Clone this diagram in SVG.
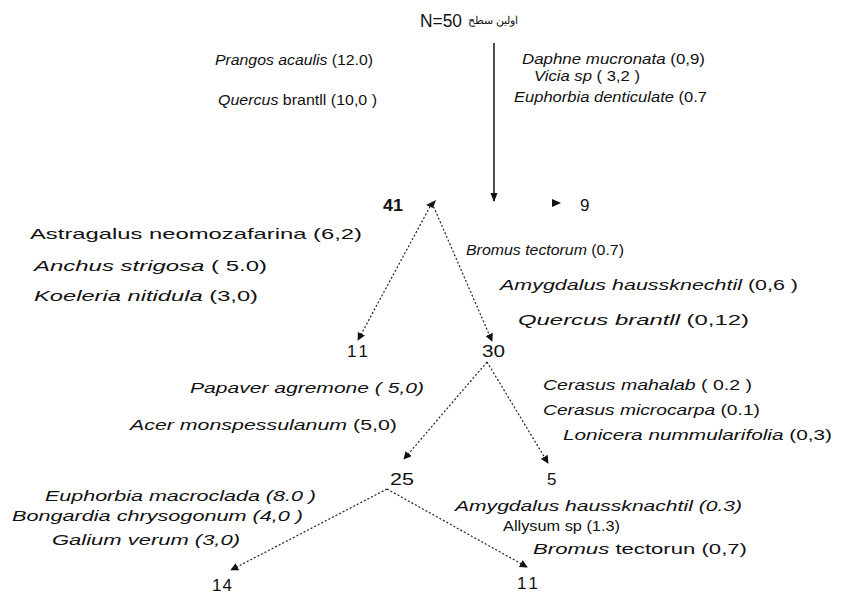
<svg xmlns="http://www.w3.org/2000/svg" width="849" height="597" viewBox="0 0 849 597">
<style>
text{font-family:"Liberation Sans",Arial,sans-serif;fill:#111;}
.sp{font-size:15px;}
.it{font-style:italic;}
.num{font-size:17px;}
.dot{fill:none;stroke:#222;stroke-width:1.2;stroke-dasharray:2,2;}
.sol{fill:none;stroke:#111;stroke-width:1.5;}
</style>
<defs>
<marker id="ah" viewBox="0 0 10 10" refX="9" refY="5" markerWidth="8" markerHeight="8" markerUnits="userSpaceOnUse" orient="auto">
<path d="M0,0 L10,5 L0,10 z" fill="#111"/>
</marker>
<marker id="ahs" viewBox="0 0 10 10" refX="9" refY="5" markerWidth="9" markerHeight="9" markerUnits="userSpaceOnUse" orient="auto">
<path d="M0,1 L10,5 L0,9 z" fill="#111"/>
</marker>
</defs>
<rect width="849" height="597" fill="#fff"/>

<g id="connectors">
<line class="sol" x1="494" y1="43" x2="494" y2="201" marker-end="url(#ahs)"/>
<path d="M552,199 L561,203 L552,207 z" fill="#111"/>
<path d="M426,205 L436,200 L433,208 z" fill="#111"/>
<line class="dot" x1="432" y1="203" x2="358" y2="340" marker-end="url(#ah)"/>
<line class="dot" x1="432" y1="203" x2="492" y2="341" marker-end="url(#ah)"/>
<line class="dot" x1="487" y1="362" x2="404" y2="459" marker-end="url(#ah)"/>
<line class="dot" x1="487" y1="362" x2="548" y2="463" marker-end="url(#ah)"/>
<line class="dot" x1="387" y1="489" x2="231" y2="570" marker-end="url(#ah)"/>
<line class="dot" x1="387" y1="489" x2="527" y2="567" marker-end="url(#ah)"/>
</g>

<g id="root">
<text x="420" y="27" font-size="18" textLength="42" lengthAdjust="spacingAndGlyphs">N=50</text>
<text x="518" y="24" font-size="11" text-anchor="end" font-family="'DejaVu Sans',sans-serif">اولین سطح</text>
</g>

<g id="labels-root-left">
<text class="sp" x="215" y="65" textLength="158" lengthAdjust="spacingAndGlyphs"><tspan font-style="italic">Prangos acaulis</tspan> (12.0)</text>
<text class="sp" x="218" y="105" textLength="159" lengthAdjust="spacingAndGlyphs"><tspan font-style="italic">Quercus</tspan> brantll  (10,0 )</text>
</g>
<g id="labels-root-right">
<text class="sp" x="522" y="64" textLength="183" lengthAdjust="spacingAndGlyphs"><tspan font-style="italic">Daphne mucronata</tspan>  (0,9)</text>
<text class="sp" x="534" y="81" textLength="106" lengthAdjust="spacingAndGlyphs"><tspan font-style="italic">Vicia sp</tspan>  ( 3,2 )</text>
<text class="sp" x="514" y="102" textLength="193" lengthAdjust="spacingAndGlyphs"><tspan font-style="italic">Euphorbia denticulate</tspan>  (0.7</text>
</g>

<g id="n41"><text x="383" y="211" font-size="17" font-weight="bold" textLength="20" lengthAdjust="spacingAndGlyphs">41</text></g>
<g id="n9"><text x="580" y="211" class="num">9</text></g>

<g id="labels-41-left">
<text class="sp" x="30" y="239" textLength="332" lengthAdjust="spacingAndGlyphs">Astragalus neomozafarina  (6,2)</text>
<text class="sp" x="34" y="271" textLength="233" lengthAdjust="spacingAndGlyphs"><tspan font-style="italic">Anchus   strigosa</tspan> ( 5.0)</text>
<text class="sp" x="34" y="301" textLength="224" lengthAdjust="spacingAndGlyphs"><tspan font-style="italic">Koeleria nitidula</tspan> (3,0)</text>
</g>
<g id="labels-41-right">
<text class="sp" x="466" y="255" textLength="158" lengthAdjust="spacingAndGlyphs"><tspan font-style="italic">Bromus tectorum</tspan>  (0.7)</text>
<text class="sp" x="500" y="290" textLength="298" lengthAdjust="spacingAndGlyphs"><tspan font-style="italic">Amygdalus haussknechtil</tspan> (0,6 )</text>
<text class="sp" x="518" y="325" textLength="231" lengthAdjust="spacingAndGlyphs"><tspan font-style="italic">Quercus  brantll</tspan>  (0,12)</text>
</g>

<g id="n11a"><text x="347" y="357" class="num" textLength="21" lengthAdjust="spacing">11</text></g>
<g id="n30"><text x="482" y="357" class="num" textLength="23" lengthAdjust="spacingAndGlyphs">30</text></g>

<g id="labels-30-left">
<text class="sp it" x="190" y="393" textLength="234" lengthAdjust="spacingAndGlyphs">Papaver agremone ( 5,0)</text>
<text class="sp" x="130" y="430" textLength="267" lengthAdjust="spacingAndGlyphs"><tspan font-style="italic">Acer monspessulanum</tspan>  (5,0)</text>
</g>
<g id="labels-30-right">
<text class="sp" x="543" y="390" textLength="209" lengthAdjust="spacingAndGlyphs"><tspan font-style="italic">Cerasus mahalab</tspan> ( 0.2 )</text>
<text class="sp" x="543" y="415" textLength="217" lengthAdjust="spacingAndGlyphs"><tspan font-style="italic">Cerasus microcarpa</tspan> (0.1)</text>
<text class="sp" x="563" y="440" textLength="269" lengthAdjust="spacingAndGlyphs"><tspan font-style="italic">Lonicera  nummularifolia</tspan> (0,3)</text>
</g>

<g id="n25"><text x="390" y="485" class="num" textLength="24" lengthAdjust="spacingAndGlyphs">25</text></g>
<g id="n5"><text x="547" y="485" class="num">5</text></g>

<g id="labels-25-left">
<text class="sp it" x="45" y="501" textLength="271" lengthAdjust="spacingAndGlyphs">Euphorbia macroclada (8.0 )</text>
<text class="sp it" x="12" y="521" textLength="291" lengthAdjust="spacingAndGlyphs">Bongardia chrysogonum (4,0 )</text>
<text class="sp it" x="52" y="545" textLength="188" lengthAdjust="spacingAndGlyphs">Galium verum  (3,0)</text>
</g>
<g id="labels-25-right">
<text class="sp it" x="455" y="511" textLength="287" lengthAdjust="spacingAndGlyphs">Amygdalus haussknachtil (0.3)</text>
<text class="sp" x="503" y="531" textLength="117" lengthAdjust="spacingAndGlyphs">Allysum sp  (1.3)</text>
<text class="sp" x="533" y="554" textLength="214" lengthAdjust="spacingAndGlyphs"><tspan font-style="italic">Bromus</tspan>  tectorun (0,7)</text>
</g>

<g id="n14"><text x="212" y="591" class="num" textLength="20" lengthAdjust="spacing">14</text></g>
<g id="n11b"><text x="517" y="589" class="num" textLength="21" lengthAdjust="spacing">11</text></g>
</svg>
